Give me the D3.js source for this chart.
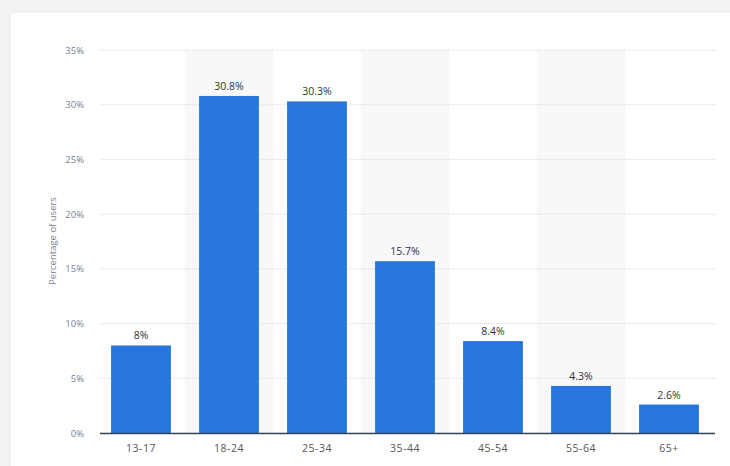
<!DOCTYPE html><html><head><meta charset="utf-8"><script src="https://cdn.jsdelivr.net/npm/d3@7"></script>
<style>body{margin:0;background:#f3f3f3;font-family:"Open Sans",sans-serif}</style></head><body><svg id="c" width="730" height="466"></svg>
<script>
const categories=["13-17","18-24","25-34","35-44","45-54","55-64","65+"];
const values=[8,30.8,30.3,15.7,8.4,4.3,2.6];
const labels=["8%","30.8%","30.3%","15.7%","8.4%","4.3%","2.6%"];
const ticks=[0,5,10,15,20,25,30,35];
const svg=d3.select("#c");
svg.append("rect").attr("x",10).attr("y",12).attr("width",740).attr("height",470).attr("rx",4).attr("fill","#fff").attr("stroke","#e8e8e8");
const x=d3.scaleBand().domain(categories).range([97,713]).paddingInner(0.32).paddingOuter(0.16);
const y=d3.scaleLinear().domain([0,35]).range([433,50]);
const step=x.step();
svg.selectAll(".sh").data(categories.filter((d,i)=>i%2==1)).join("rect").attr("x",d=>x(d)-x.paddingInner()*step/2).attr("width",step).attr("y",50).attr("height",383).attr("fill","#f8f8f8");
svg.selectAll(".g").data(ticks).join("line").attr("x1",100).attr("x2",715).attr("y1",d=>y(d)).attr("y2",d=>y(d)).attr("stroke","#d8d8d8").attr("stroke-dasharray","1,1");
svg.selectAll(".t").data(ticks).join("text").attr("x",84).attr("y",d=>y(d)+3.5).attr("text-anchor","end").attr("font-size",9.5).attr("fill","#7a8290").text(d=>d+"%");
svg.selectAll(".b").data(values).join("rect").attr("x",(d,i)=>x(categories[i])).attr("width",x.bandwidth()).attr("y",d=>y(d)).attr("height",d=>433-y(d)).attr("fill","#2876dd");
svg.selectAll(".l").data(values).join("text").attr("x",(d,i)=>x(categories[i])+x.bandwidth()/2).attr("y",d=>y(d)-6).attr("text-anchor","middle").attr("font-size",10.5).attr("fill","#333").text((d,i)=>labels[i]);
svg.append("line").attr("x1",100).attr("x2",715).attr("y1",433.5).attr("y2",433.5).attr("stroke","#3a4656").attr("stroke-width",1.5);
svg.selectAll(".c").data(categories).join("text").attr("x",d=>x(d)+x.bandwidth()/2).attr("y",452).attr("text-anchor","middle").attr("font-size",10.5).attr("fill","#555").attr("letter-spacing","0.5px").text(d=>d);
svg.append("text").attr("transform","translate(56,241) rotate(-90)").attr("text-anchor","middle").attr("font-size",9.5).attr("fill","#7a8290").text("Percentage of users");
</script></body></html>
